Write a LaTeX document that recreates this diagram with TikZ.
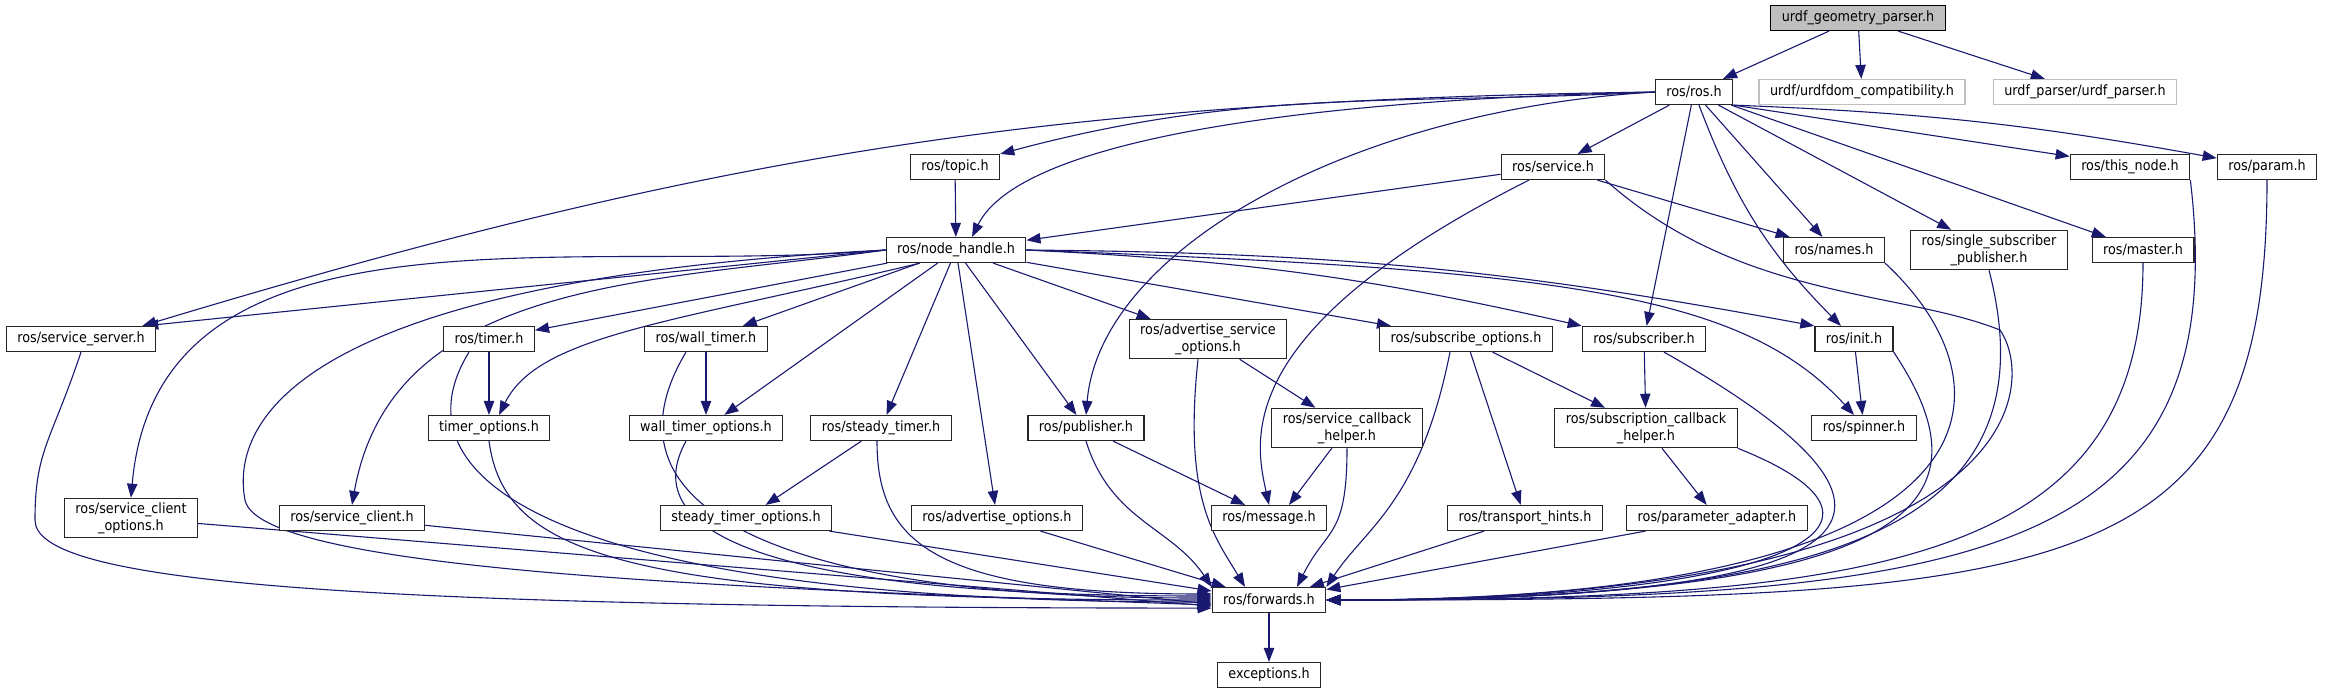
\documentclass[tikz,border=0pt]{standalone}
\usepackage{fontspec}
\setmainfont{DejaVu Sans}[FakeStretch=0.9]
\usetikzlibrary{arrows.meta,backgrounds}
\definecolor{incblue}{HTML}{191970}
\tikzset{hfile/.style={draw=black!85,fill=white,line width=0.6pt,inner xsep=5.5pt,inner ysep=2pt,minimum height=12.5pt,align=center,font=\fontsize{7.1}{8.6}\selectfont}}
\tikzset{mainfile/.style={hfile,draw=black,fill=gray!50}}
\tikzset{extfile/.style={hfile,draw=gray!50}}
\tikzset{inc/.style={draw=incblue,line width=0.55pt,-{Triangle[length=7pt,width=5.2pt]}}}

\begin{document}
\begin{tikzpicture}[x=0.5pt,y=0.5pt]
    \useasboundingbox (0,0) rectangle (2330,-693);
    \node[mainfile] (ugp)        at (1858,-18)  {urdf\_geometry\_parser.h};
    \node[hfile]    (ros)        at (1694,-92)  {ros/ros.h};
    \node[extfile]  (urdfdom)    at (1862,-92)  {urdf/urdfdom\_compatibility.h};
    \node[extfile]  (urdfparser) at (2085,-92)  {urdf\_parser/urdf\_parser.h};
    \node[hfile]    (topic)      at (955,-167)  {ros/topic.h};
    \node[hfile]    (service)    at (1553,-167) {ros/service.h};
    \node[hfile]    (thisnode)   at (2130,-167) {ros/this\_node.h};
    \node[hfile]    (param)      at (2267,-167) {ros/param.h};
    \node[hfile]    (nh)         at (956,-250)  {ros/node\_handle.h};
    \node[hfile]    (names)      at (1834,-250) {ros/names.h};
    \node[hfile]    (singlesub)  at (1989,-250) {ros/single\_subscriber\\\_publisher.h};
    \node[hfile]    (master)     at (2143,-250) {ros/master.h};
    \node[hfile]    (ss)         at (81,-339)   {ros/service\_server.h};
    \node[hfile]    (timer)      at (489,-339)  {ros/timer.h};
    \node[hfile]    (walltimer)  at (706,-339)  {ros/wall\_timer.h};
    \node[hfile]    (aso)        at (1208,-339) {ros/advertise\_service\\\_options.h};
    \node[hfile]    (subopts)    at (1466,-339) {ros/subscribe\_options.h};
    \node[hfile]    (sub)        at (1644,-339) {ros/subscriber.h};
    \node[hfile]    (init)       at (1854,-339) {ros/init.h};
    \node[hfile]    (timeropts)  at (489,-428)  {timer\_options.h};
    \node[hfile]    (wto)        at (706,-428)  {wall\_timer\_options.h};
    \node[hfile]    (steadytimer) at (881,-428) {ros/steady\_timer.h};
    \node[hfile]    (pub)        at (1086,-428) {ros/publisher.h};
    \node[hfile]    (scb)        at (1347,-428) {ros/service\_callback\\\_helper.h};
    \node[hfile]    (subcb)      at (1646,-428) {ros/subscription\_callback\\\_helper.h};
    \node[hfile]    (spinner)    at (1864,-428) {ros/spinner.h};
    \node[hfile]    (sco)        at (131,-518)  {ros/service\_client\\\_options.h};
    \node[hfile]    (scl)        at (352,-518)  {ros/service\_client.h};
    \node[hfile]    (sto)        at (746,-518)  {steady\_timer\_options.h};
    \node[hfile]    (advopts)    at (997,-518)  {ros/advertise\_options.h};
    \node[hfile]    (msg)        at (1269,-518) {ros/message.h};
    \node[hfile]    (transport)  at (1525,-518) {ros/transport\_hints.h};
    \node[hfile]    (pa)         at (1717,-518) {ros/parameter\_adapter.h};
    \node[hfile]    (fw)         at (1269,-600) {ros/forwards.h};
    \node[hfile]    (exc)        at (1269,-675) {exceptions.h};
    \begin{scope}[on background layer]
    % urdf_geometry_parser.h
    \draw[inc] (ugp) -- (ros);
    \draw[inc] (ugp) -- (urdfdom);
    \draw[inc] (ugp) -- (urdfparser);
    % ros/ros.h
    \draw[inc] (ros.west) to[out=183,in=15] (topic.north east);
    \draw[inc] (ros.west) .. controls (1300,-100) and (1020,-140) .. ([xshift=8pt]nh.north);
    \draw[inc] (ros.west) to[bend right=8] ([xshift=-7pt]ss.north east);
    \draw[inc] (ros.west) .. controls (1350,-110) and (1100,-250) .. (pub.north);
    \draw[inc] (ros) -- (service);
    \draw[inc] (ros) -- (sub);
    \draw[inc] (ros) -- (names);
    \draw[inc] (ros) to[bend right=12] (init);
    \draw[inc] (ros) -- (singlesub);
    \draw[inc] (ros) -- (master);
    \draw[inc] (ros.south east) -- (thisnode.170);
    \draw[inc] (ros.south east) to[bend left=4] (param.170);
    \draw[inc] (topic) -- (nh);
    % ros/service.h
    \draw[inc] (service) -- (nh);
    \draw[inc] (service) -- (names);
    \draw[inc] ([xshift=-12pt]service.south) .. controls +(-299,-150) and +(-14,64) .. (msg.north);
    % ros/node_handle.h
    \draw[inc] (nh.west) -- ([xshift=-6pt]ss.north east);
    \draw[inc] (nh.west) to[out=185,in=85] (sco.north);
    \draw[inc] (nh.west) to[out=188,in=80] (scl.north);
    \draw[inc] (nh) -- (timer);
    \draw[inc] (nh.200) .. controls +(-250,-60) and +(40,80) .. ([xshift=5pt]timeropts.north);
    \draw[inc] (nh) -- (walltimer);
    \draw[inc] (nh) -- (wto);
    \draw[inc] (nh) -- (steadytimer);
    \draw[inc] (nh) -- (advopts);
    \draw[inc] (nh) -- (pub);
    \draw[inc] (nh) -- (aso);
    \draw[inc] (nh) -- (subopts);
    \draw[inc] (nh.east) to[bend left=5] (sub.north west);
    \draw[inc] (nh.east) to[bend left=5] (init.north west);
    \draw[inc] (nh.east) .. controls (1550,-270) and (1740,-290) .. ([xshift=-5pt]spinner.north);
    % second level
    \draw[inc] (timer) -- (timeropts);
    \draw[inc] (walltimer) -- (wto);
    \draw[inc] (steadytimer) -- (sto);
    \draw[inc] (aso) -- (scb);
    \draw[inc] (subopts) -- (subcb);
    \draw[inc] (subopts) -- (transport);
    \draw[inc] (sub) -- (subcb);
    \draw[inc] (subcb) -- (pa);
    \draw[inc] (init) -- (spinner);
    \draw[inc] (pub) -- ([xshift=-12pt]msg.north);
    \draw[inc] (scb) -- ([xshift=10pt]msg.north);
    \draw[inc] (fw) -- (exc);
    % into ros/forwards.h, from the left
    \draw[inc] (ss.south) .. controls +(-30,-90) and +(0,70) .. (35,-520)
      .. controls +(0,-60) and +(-900,0) .. (fw.188);
    \draw[inc] (nh.west) .. controls (300,-280) and (230,-420) .. (245,-500)
      .. controls (260,-575) and (800,-590) .. (fw.185);
    \draw[inc] (sco) -- (fw.186);
    \draw[inc] (scl) -- (fw.184);
    \draw[inc] ([xshift=-10pt]timer.south) .. controls +(-80,-130) and +(-650,0) .. (fw.182);
    \draw[inc] (timeropts.south) .. controls +(15,-110) and +(-600,0) .. (fw.180);
    \draw[inc] ([xshift=-10pt]walltimer.south) .. controls +(-90,-150) and +(-450,0) .. (fw.178);
    \draw[inc] ([xshift=-10pt]wto.south) .. controls +(-50,-90) and +(-450,0) .. (fw.176);
    \draw[inc] ([xshift=-2pt]steadytimer.south) .. controls +(0,-100) and +(-280,0) .. (fw.174);
    \draw[inc] (sto) -- (fw);
    \draw[inc] (advopts) -- (fw);
    % from above
    \draw[inc] (pub.south) .. controls +(25,-80) and +(-40,60) .. (fw.north west);
    \draw[inc] ([xshift=-5pt]aso.south) .. controls +(-15,-140) and +(-30,50) .. ([xshift=-12pt]fw.north);
    \draw[inc] (scb.south) .. controls +(0,-90) and +(30,60) .. ([xshift=14pt]fw.north);
    \draw[inc] ([xshift=-8pt]subopts.south) .. controls +(-30,-150) and +(40,60) .. (fw.north east);
    % from the right
    \draw[inc] (transport) -- (fw);
    \draw[inc] (pa) -- (fw);
    \draw[inc] (subcb.south east) .. controls +(200,-80) and +(450,0) .. (fw.east);
    \draw[inc] ([xshift=10pt]sub.south) .. controls +(300,-170) and +(550,0) .. (fw.east);
    \draw[inc] (init.south east) .. controls +(100,-150) and +(600,0) .. (fw.east);
    \draw[inc] (names.south east) .. controls +(130,-120) and +(700,0) .. (fw.east);
    \draw[inc] (service.south east) .. controls (1740,-300) and (1900,-290) .. (2000,-330)
      .. controls (2035,-380) and (2040,-600) .. (fw.east);
    \draw[inc] (singlesub.south) .. controls +(70,-270) and +(480,0) .. (fw.east);
    \draw[inc] (master.south) .. controls +(0,-300) and +(550,0) .. (fw.east);
    \draw[inc] (thisnode.south east) .. controls +(45,-380) and +(650,0) .. (fw.east);
    \draw[inc] (param.south) .. controls +(0,-400) and +(750,0) .. (fw.east);
    \end{scope}
\end{tikzpicture}
\end{document}
